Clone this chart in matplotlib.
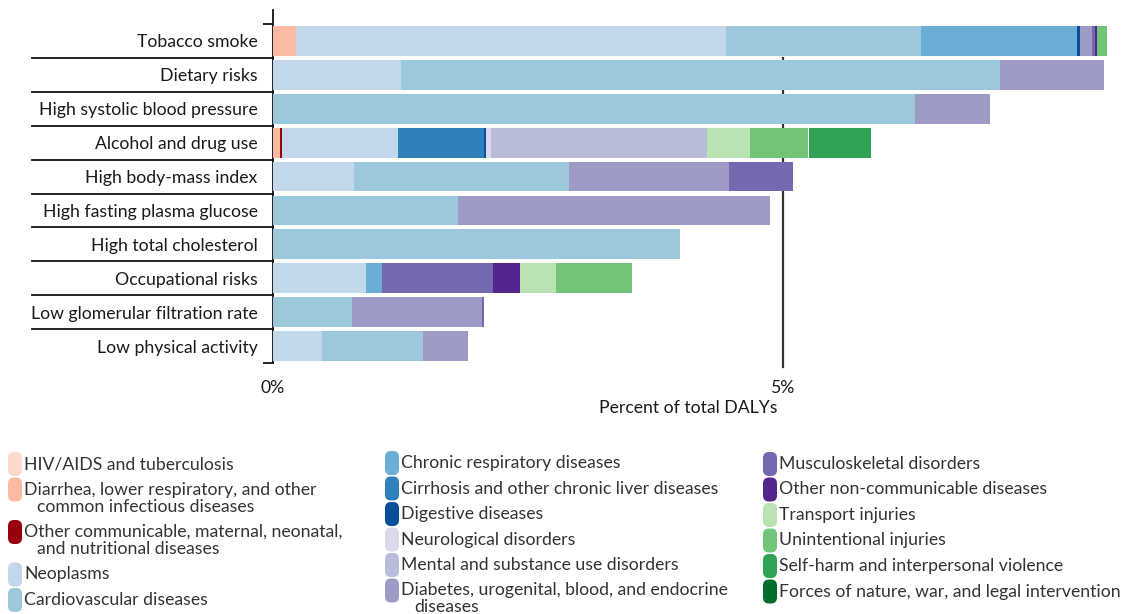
import numpy as np
import matplotlib
matplotlib.use('Agg')
from matplotlib import pyplot as plt
from matplotlib.patches import FancyBboxPatch
from matplotlib.transforms import blended_transform_factory

plt.rcParams['font.family'] = ['Lato', 'DejaVu Sans']

# risk factors, top to bottom
risks = ['Tobacco smoke', 'Dietary risks', 'High systolic blood pressure',
         'Alcohol and drug use', 'High body-mass index',
         'High fasting plasma glucose', 'High total cholesterol',
         'Occupational risks', 'Low glomerular filtration rate',
         'Low physical activity']

# percent of total DALYs per cause, one value per risk (same order as risks)
hiv_tb        = [0, 0, 0, 0, 0, 0, 0, 0, 0, 0]
diarrhea_lri  = [0.23, 0, 0, 0.07, 0, 0, 0, 0, 0, 0]
other_comm    = [0, 0, 0, 0.02, 0, 0, 0, 0, 0, 0]
neoplasms     = [4.21, 1.25, 0, 1.14, 0.79, 0, 0, 0.91, 0, 0.48]
cardio        = [1.91, 5.88, 6.29, 0, 2.11, 1.81, 3.99, 0, 0.77, 0.99]
chronic_resp  = [1.53, 0, 0, 0, 0, 0, 0, 0.16, 0, 0]
cirrhosis     = [0, 0, 0, 0.84, 0, 0, 0, 0, 0, 0]
digestive     = [0.03, 0, 0, 0.02, 0, 0, 0, 0, 0, 0]
neurological  = [0, 0, 0, 0.05, 0, 0, 0, 0, 0, 0]
mental        = [0, 0, 0, 2.11, 0, 0, 0, 0, 0, 0]
diabetes      = [0.12, 1.02, 0.74, 0, 1.57, 3.06, 0, 0, 1.28, 0.44]
musculo       = [0.03, 0, 0, 0, 0.63, 0, 0, 1.09, 0.02, 0]
other_ncd     = [0.02, 0, 0, 0, 0, 0, 0, 0.26, 0, 0]
transport     = [0, 0, 0, 0.43, 0, 0, 0, 0.35, 0, 0]
unintentional = [0.10, 0, 0, 0.57, 0, 0, 0, 0.75, 0, 0]
self_harm     = [0, 0, 0, 0.61, 0, 0, 0, 0, 0, 0]
forces        = [0, 0, 0, 0, 0, 0, 0, 0, 0, 0]

series = [hiv_tb, diarrhea_lri, other_comm, neoplasms, cardio, chronic_resp,
          cirrhosis, digestive, neurological, mental, diabetes, musculo,
          other_ncd, transport, unintentional, self_harm, forces]

cause_labels = [
    ['HIV/AIDS and tuberculosis'],
    ['Diarrhea, lower respiratory, and other', 'common infectious diseases'],
    ['Other communicable, maternal, neonatal,', 'and nutritional diseases'],
    ['Neoplasms'],
    ['Cardiovascular diseases'],
    ['Chronic respiratory diseases'],
    ['Cirrhosis and other chronic liver diseases'],
    ['Digestive diseases'],
    ['Neurological disorders'],
    ['Mental and substance use disorders'],
    ['Diabetes, urogenital, blood, and endocrine', 'diseases'],
    ['Musculoskeletal disorders'],
    ['Other non-communicable diseases'],
    ['Transport injuries'],
    ['Unintentional injuries'],
    ['Self-harm and interpersonal violence'],
    ['Forces of nature, war, and legal intervention'],
]

colors = ['#fcd9cc', '#fcbba1', '#99000d', '#c3d7eb', '#9bc8dc', '#6aaed5',
          '#2f80bb', '#0a4f99', '#dadaeb', '#b9bcd8', '#9d9ac5', '#7568b0',
          '#54258d', '#b9e3b1', '#72c476', '#31a354', '#006d2c']

fig = plt.figure(figsize=(11.26, 6.14), dpi=100)
W, H = 1126, 614
ax = fig.add_axes([273 / W, 1 - 363 / H, 1 - 273 / W, (363 - 10) / H])

y = np.arange(len(risks))
left = np.zeros(len(risks))
for vals, col in zip(series, colors):
    vals = np.array(vals, dtype=float)
    ax.barh(y, vals, left=left, height=0.88, color=col, linewidth=0, zorder=3)
    left += vals

ax.set_xlim(0, (W - 273) / 102)
ax.set_ylim(9.5, -0.5 - 14 / 33.9)

# 5% reference line behind the bars
ax.plot([5, 5], [0.5, 9.62], color='#333333', lw=1.6, zorder=1, clip_on=False)

for s in ['top', 'right', 'bottom']:
    ax.spines[s].set_visible(False)
ax.spines['left'].set_color('#111111')
ax.spines['left'].set_linewidth(1.3)

ax.set_yticks(y)
ax.set_yticklabels(risks, fontsize=12.7, color='#1a1a1a')
ax.tick_params(axis='y', length=0, pad=11)
ax.set_yticks([-0.5, 9.5], minor=True)
ax.tick_params(axis='y', which='minor', length=7, width=1.3, color='#111111')

ax.set_xticks([0, 5])
ax.set_xticklabels(['0%', '5%'], fontsize=12.7, color='#1a1a1a')
ax.tick_params(axis='x', length=0, pad=12)

# separators under the risk labels
trans = blended_transform_factory(ax.transAxes, ax.transData)
for b in np.arange(0.5, len(risks) - 1, 1.0):
    ax.plot([-(273 - 32) / (W - 273), 0], [b, b], transform=trans,
            color='#111111', lw=1.3, clip_on=False)

fig.text(688 / W, 1 - 408 / H, 'Percent of total DALYs', ha='center',
         va='center', fontsize=12.7, color='#1a1a1a')

# legend drawn in pixel coordinates
lg = fig.add_axes([0, 0, 1, 1])
lg.set_xlim(0, W)
lg.set_ylim(H, 0)
lg.axis('off')

col_x = [8, 385, 763]
col_start = [464, 463, 464]
groups = [range(0, 5), range(5, 11), range(11, 17)]
for cx, cy, idx in zip(col_x, col_start, groups):
    yy = cy
    for i in idx:
        lg.add_patch(FancyBboxPatch((cx, yy - 12), 14, 24,
                                    boxstyle='round,pad=0,rounding_size=6',
                                    facecolor=colors[i], edgecolor='none'))
        for k, line in enumerate(cause_labels[i]):
            lg.text(cx + 16 + (13 if k else 0), yy + k * 17, line,
                    fontsize=12.7, color='#333333', va='center', ha='left')
        yy += 25.5 + 17 * (len(cause_labels[i]) - 1)

plt.savefig('out.png', dpi=100)
